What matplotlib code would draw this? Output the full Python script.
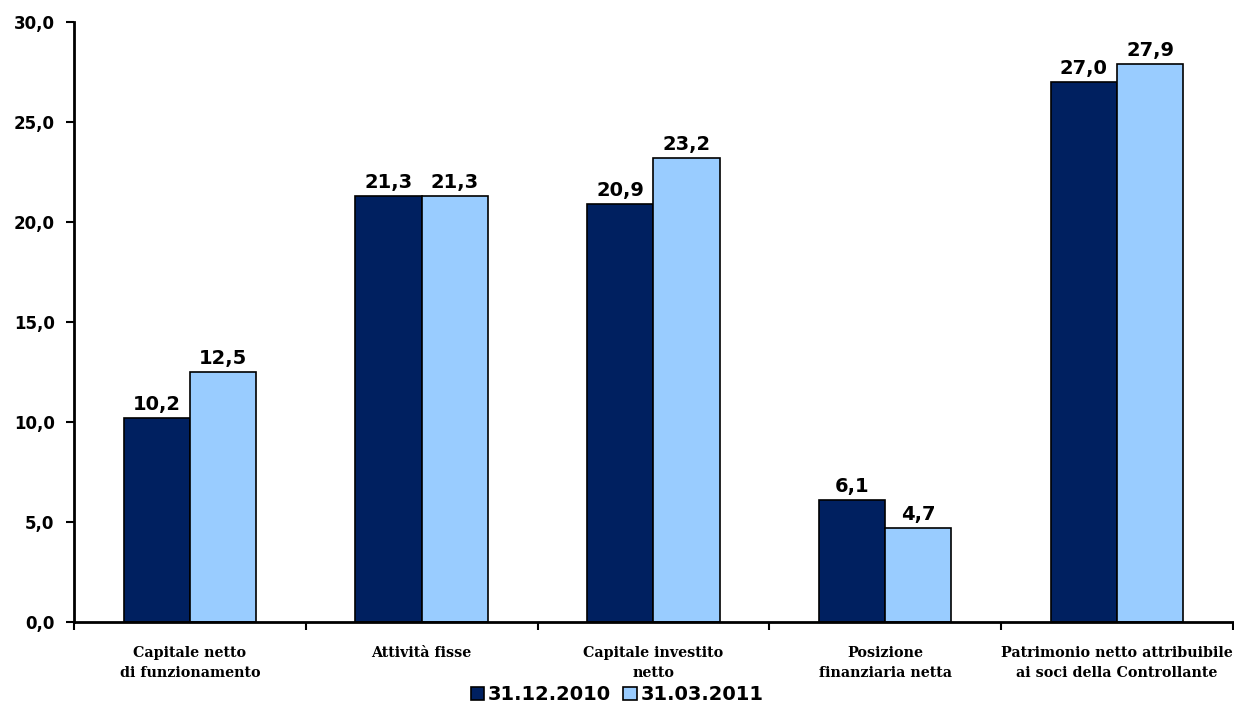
import matplotlib.pyplot as plt
import numpy as np
from matplotlib.ticker import FixedLocator, FuncFormatter

categories = [
    "Capitale netto\ndi funzionamento",
    "Attività fisse",
    "Capitale investito\nnetto",
    "Posizione\nfinanziaria netta",
    "Patrimonio netto attribuibile\nai soci della Controllante",
]
series_names = ["31.12.2010", "31.03.2011"]
values_2010 = [10.2, 21.3, 20.9, 6.1, 27.0]
values_2011 = [12.5, 21.3, 23.2, 4.7, 27.9]
y_ticks = [0, 5, 10, 15, 20, 25, 30]

dark = "#002060"
light = "#99CCFF"


def comma(v, _pos=None):
    return f"{v:.1f}".replace(".", ",")


fig = plt.figure(figsize=(12.34, 7.06), dpi=100)
ax = fig.add_axes([0.060, 0.119, 0.939, 0.850])

x = np.arange(len(categories))
width = 0.286
b1 = ax.bar(x - width / 2, values_2010, width, color=dark, edgecolor="black",
            linewidth=1.2, label=series_names[0])
b2 = ax.bar(x + width / 2, values_2011, width, color=light, edgecolor="black",
            linewidth=1.2, label=series_names[1])

for bars in (b1, b2):
    ax.bar_label(bars, labels=[comma(v) for v in bars.datavalues], padding=3,
                 fontsize=14, fontweight="bold", family="DejaVu Sans")

ax.set_xlim(-0.5, len(categories) - 0.5)
ax.set_ylim(0, 30)
ax.set_yticks(y_ticks)
ax.yaxis.set_major_formatter(FuncFormatter(comma))
ax.tick_params(axis="y", direction="out", length=6, width=1.5, pad=8)
for lbl in ax.get_yticklabels():
    lbl.set_fontsize(12)
    lbl.set_fontweight("bold")

# boundary ticks between groups, labels centred on groups
ax.xaxis.set_major_locator(FixedLocator(np.arange(-0.5, len(categories), 1.0)))
ax.xaxis.set_major_formatter(FuncFormatter(lambda v, p: ""))
ax.xaxis.set_minor_locator(FixedLocator(x))
ax.set_xticklabels(categories, minor=True)
ax.tick_params(axis="x", which="major", direction="out", length=6, width=1.5)
ax.tick_params(axis="x", which="minor", length=0, pad=17)
for lbl in ax.get_xticklabels(minor=True):
    lbl.set_fontsize(10.3)
    lbl.set_fontweight("bold")
    lbl.set_family("DejaVu Serif")
    lbl.set_linespacing(1.55)

for side in ("top", "right"):
    ax.spines[side].set_visible(False)
for side in ("left", "bottom"):
    ax.spines[side].set_linewidth(2)

fig.legend(handles=[b1, b2], labels=series_names, loc="center",
           bbox_to_anchor=(0.5, 0.016), ncol=2, frameon=False,
           prop={"size": 14, "weight": "bold"}, handlelength=0.7,
           handleheight=0.7, handletextpad=0.2, columnspacing=0.6,
           borderpad=0)

fig.savefig("out.png", dpi=100)
